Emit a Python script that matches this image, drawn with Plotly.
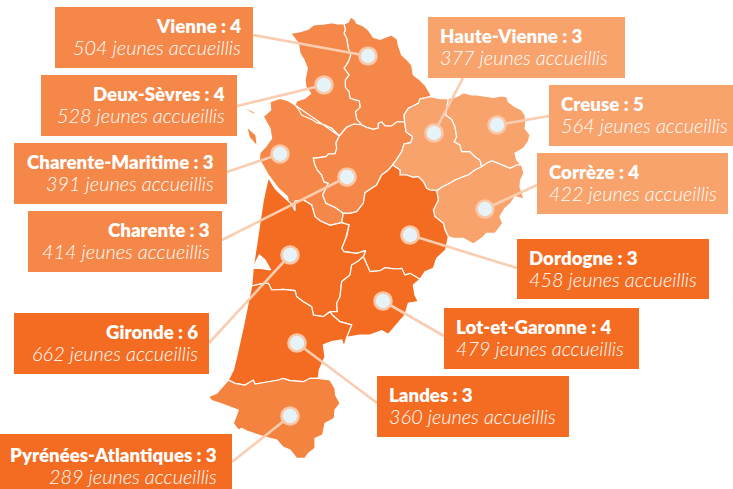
import plotly.graph_objects as go

W, H = 733, 489
MID = "#F58748"
LIGHT = "#F8A26C"
DARK = "#F46C21"
PYRENEES = "#F3833F"
LINK = "#FBCDB0"
DOT = "#E6F3F8"
RING = "#FAC8A8"

# outline segments, in a 3x-enlarged frame
def z(pts):
    return [(200 + x / 3, y / 3) for x, y in pts]

vienne_coast = z([(432,72),(445,66),(450,55),(455,52),(465,60),(470,70),(490,78),(505,90),(520,112),(540,118),(560,110),(575,105),(592,118),(595,135),(605,165),(622,180),(635,195),(640,225),(660,240),(675,255),(692,283),(692,290)])
vienne_ds = z([(432,72),(436,90),(432,100),(440,115),(445,145),(452,165),(445,185),(432,205),(447,225),(436,240),(436,262),(447,275),(450,295),(465,300),(478,303),(480,322),(466,335),(470,358),(485,375)])
ds_charente = z([(485,375),(462,372),(440,382),(430,392),(418,408)])
ds_cm = z([(418,408),(395,385),(375,375),(365,372),(350,368),(338,360),(320,352),(305,345),(297,330),(285,315)])
ds_coast = z([(285,315),(290,303),(315,295),(332,280),(318,262),(315,240),(322,205),(312,180),(300,160),(295,130),(272,100),(300,95),(325,88),(340,75),(375,72),(395,68),(412,72),(432,72)])
vienne_charente = z([(485,375),(500,382),(520,388),(535,384),(535,370),(545,366),(555,378),(575,378),(590,366),(614,365)])
vienne_hv = z([(614,365),(612,345),(625,325),(640,318),(655,310),(660,297),(692,290)])
charente_hv = z([(614,365),(618,395),(638,410),(632,428),(612,432),(605,455),(590,478),(578,495)])
cm_charente = z([(418,408),(408,428),(410,445),(405,462),(385,462),(378,470),(340,475),(345,495),(352,510),(365,525),(372,545),(385,550),(375,570),(368,585),(378,610),(405,622),(430,640)])
charente_dordogne = z([(430,640),(450,640),(470,635),(490,610),(495,578),(515,565),(530,555),(545,525),(565,510),(578,495)])
cm_coast = z([(285,315),(265,302),(240,295),(210,305),(212,330),(190,350),(210,385),(215,415),(197,440),(180,458),(178,478),(205,525),(235,565),(262,590),(272,632),(285,632),(285,604)])
cm_gironde = z([(285,604),(310,600),(335,615),(345,650),(360,662),(390,676),(425,668)])
hv_top = z([(692,290),(720,296),(745,295)])
hv_creuse = z([(745,295),(737,345),(755,358),(765,380),(770,410),(763,425),(780,435),(785,455),(810,455),(825,470),(840,480),(845,500)])
hv_correze = z([(845,500),(825,510),(805,525),(790,530),(765,540),(745,552),(728,560),(710,572)])
hv_dordogne = z([(710,572),(690,570),(680,565),(670,545),(655,530),(640,532),(620,525),(600,525),(600,510),(578,495)])
creuse_coast = z([(745,295),(770,290),(790,278),(815,285),(830,285),(860,290),(880,292),(905,288),(920,290),(925,305),(945,320),(965,330),(975,345),(978,365),(975,385),(990,405),(985,425),(970,445),(950,455),(945,460),(950,480),(965,495)])
creuse_correze = z([(845,500),(860,490),(875,483),(895,490),(915,498),(930,505),(950,495),(965,495)])
correze_coast = z([(965,495),(972,520),(962,540),(960,560),(972,597),(945,590),(932,610),(915,625),(900,650),(908,670),(885,700),(860,700),(845,715),(820,732),(790,715),(760,715),(745,710)])
correze_dordogne = z([(745,710),(735,690),(730,670),(705,650),(700,630),(715,600),(710,572)])
dordogne_coast = z([(745,710),(737,750),(725,760),(710,775),(700,805),(675,815),(660,838)])
gironde_dordogne = z([(425,668),(447,675),(440,710),(437,715),(425,745),(432,755),(470,760),(497,752),(490,770)])
dordogne_lot = z([(490,770),(497,785),(510,815),(540,812),(555,803),(570,805),(585,807),(605,805),(615,825),(630,820),(645,830),(660,838)])
gironde_lot = z([(490,770),(475,783),(455,795),(450,825),(425,845),(422,870),(420,890),(410,910),(412,935),(390,935)])
gironde_landes = z([(390,935),(370,950),(340,945),(335,920),(310,905),(290,890),(285,872),(250,868),(215,870),(205,850),(190,850),(155,858)])
lot_landes = z([(390,935),(397,945),(420,965),(455,975),(440,1012)])
landes_pyrenees = z([(85,1140),(105,1150),(135,1155),(148,1148),(160,1140),(165,1152),(210,1145),(235,1140),(250,1135),(270,1142),(310,1145),(330,1135),(355,1135)])
gironde_estuary = z([(205,532),(225,565),(250,590),(275,612),(285,632),(285,604)])
gironde_coast = z([(155,858),(160,800),(170,730),(175,690),(190,600),(205,532)])
landes_east = z([(440,1012),(432,1040),(425,1020),(395,1025),(370,1035),(375,1070),(358,1110),(355,1135)])
landes_coast = z([(85,1140),(100,1110),(110,1070),(130,980),(145,910),(155,858)])
lot_east = z([(660,838),(640,855),(645,885),(655,905),(625,910),(615,945),(590,975),(565,1003),(545,992),(510,1005),(480,1005),(440,1012)])
pyrenees_rest = [(x / 3, 360 + y / 3) for x, y in [(990,60),(1005,85),(1007,105),(1020,130),(1005,150),(1003,175),(975,190),(968,225),(945,235),(945,265),(925,280),(915,295),(890,295),(870,270),(850,262),(830,240),(790,230),(745,215),(725,205),(715,210),(700,190),(715,150),(690,140),(660,130),(635,122),(625,110),(650,100)]]
oleron_shape = z([(140,380),(155,392),(168,405),(172,440),(160,425),(148,412)])
re_shape = z([(115,320),(140,330),(165,345),(162,335),(140,325)])
arcachon_shape = z([(158,805),(178,765),(195,780),(212,810),(180,805)])

vienne_shape = vienne_coast + vienne_hv[::-1] + vienne_charente[::-1] + vienne_ds[::-1]
deux_sevres_shape = ds_coast + vienne_ds + ds_charente + ds_cm
charente_maritime_shape = cm_coast + cm_gironde + cm_charente[::-1] + ds_cm[::-1]
charente_shape = ds_charente[::-1] + vienne_charente + charente_hv + charente_dordogne[::-1] + cm_charente[::-1]
haute_vienne_shape = vienne_hv + hv_top + hv_creuse + hv_correze + hv_dordogne + charente_hv[::-1]
creuse_shape = creuse_coast + creuse_correze[::-1] + hv_creuse[::-1]
correze_shape = hv_correze[::-1] + creuse_correze + correze_coast + correze_dordogne
dordogne_shape = charente_dordogne + hv_dordogne[::-1] + correze_dordogne[::-1] + dordogne_coast + dordogne_lot[::-1] + gironde_dordogne[::-1] + z([(430,640)])
gironde_shape = gironde_estuary + cm_gironde + gironde_dordogne + gironde_lot + gironde_landes + gironde_coast
lot_et_garonne_shape = dordogne_lot + lot_east + lot_landes[::-1] + gironde_lot[::-1]
landes_shape = gironde_landes[::-1] + lot_landes + landes_east + landes_pyrenees[::-1] + landes_coast
pyrenees_shape = landes_pyrenees + pyrenees_rest

regions = [
    (vienne_shape, MID), (deux_sevres_shape, MID), (charente_maritime_shape, MID),
    (charente_shape, MID), (haute_vienne_shape, LIGHT), (creuse_shape, LIGHT),
    (correze_shape, LIGHT), (dordogne_shape, DARK), (gironde_shape, DARK),
    (lot_et_garonne_shape, DARK), (landes_shape, DARK), (pyrenees_shape, PYRENEES),
    (oleron_shape, MID), (re_shape, MID), (arcachon_shape, "#FFFFFF"),
]

names = ["Vienne : 4", "Deux-Sèvres : 4", "Charente-Maritime : 3", "Charente : 3",
         "Gironde : 6", "Pyrénées-Atlantiques : 3", "Haute-Vienne : 3", "Creuse : 5",
         "Corrèze : 4", "Dordogne : 3", "Lot-et-Garonne : 4", "Landes : 3"]
youths = [504, 528, 391, 414, 662, 289, 377, 564, 422, 458, 479, 360]
box_left = [55, 41, 14, 28, 14, 0, 428, 549, 537, 517, 444, 377]
box_right = [253, 237, 227, 222, 209, 232, 625, 733, 728, 709, 639, 569]
box_top = [7, 75, 143, 211, 313, 434, 17, 85, 153, 239, 308, 376]
box_bottom = [68, 136, 204, 272, 374, 489, 78, 146, 214, 299, 369, 437]
box_color = [MID, MID, MID, MID, DARK, DARK, LIGHT, LIGHT, LIGHT, DARK, DARK, DARK]
text_x = [241, 225, 214, 210, 198, 217, 440, 561, 549, 529, 456, 389]
text_top = [7, 75, 143, 211, 313, 436, 17, 85, 153, 239, 308, 376]
text_anchor = ["right"] * 6 + ["left"] * 6
dot_x = [368, 324, 280, 347, 290, 290, 434, 497, 485, 410, 383, 297]
dot_y = [56, 85, 154, 177, 255, 416, 133, 125, 209, 235, 301, 343]
link_x = [253, 237, 227, 222, 209, 232, 463, 549, 537, 517, 444, 377]
link_y = [35, 106, 172, 240, 343, 462, 78, 116, 185, 268, 336, 403]

fig = go.Figure()

for shape, colour in regions:
    fig.add_trace(go.Scatter(
        x=[p[0] for p in shape] + [shape[0][0]],
        y=[p[1] for p in shape] + [shape[0][1]],
        mode="lines", fill="toself", fillcolor=colour,
        line=dict(color="#FFFFFF", width=1.2), hoverinfo="skip", showlegend=False))

for lx, ly, dx, dy in zip(link_x, link_y, dot_x, dot_y):
    fig.add_trace(go.Scatter(x=[lx, dx], y=[ly, dy], mode="lines",
                             line=dict(color=LINK, width=2.6),
                             hoverinfo="skip", showlegend=False))

fig.add_trace(go.Scatter(x=dot_x, y=dot_y, mode="markers",
                         marker=dict(size=17, color=DOT, line=dict(color=RING, width=2.6)),
                         hoverinfo="skip", showlegend=False))

shapes = []
annotations = []
for i, name in enumerate(names):
    shapes.append(dict(type="rect", xref="x", yref="y", layer="above",
                       x0=box_left[i], x1=box_right[i], y0=box_top[i], y1=box_bottom[i],
                       fillcolor=box_color[i], line=dict(width=0)))
    annotations.append(dict(x=text_x[i], y=text_top[i] + 19, xref="x", yref="y", text=name,
                            showarrow=False, xanchor=text_anchor[i], yanchor="middle",
                            height=20, borderpad=0, borderwidth=0,
                            font=dict(family="Lato", size=18.7, color="#FFFFFF", weight=800)))
    annotations.append(dict(x=text_x[i], y=text_top[i] + 40.5, xref="x", yref="y",
                            text=f"{youths[i]} jeunes accueillis",
                            showarrow=False, xanchor=text_anchor[i], yanchor="middle",
                            height=22.5, borderpad=0, borderwidth=0,
                            font=dict(family="Lato", size=19.9, color="#FFFFFF",
                                      style="italic", weight=300)))

fig.update_layout(
    width=W, height=H, margin=dict(l=0, r=0, t=0, b=0),
    paper_bgcolor="#FFFFFF", plot_bgcolor="#FFFFFF",
    xaxis=dict(range=[0, W], visible=False, fixedrange=True),
    yaxis=dict(range=[H, 0], visible=False, fixedrange=True),
    shapes=shapes, annotations=annotations, showlegend=False)

fig.write_html("out.html", config={"displayModeBar": False},
               post_script="document.body.style.margin='0';document.documentElement.style.overflow='hidden';window.dispatchEvent(new Event('resize'));")
